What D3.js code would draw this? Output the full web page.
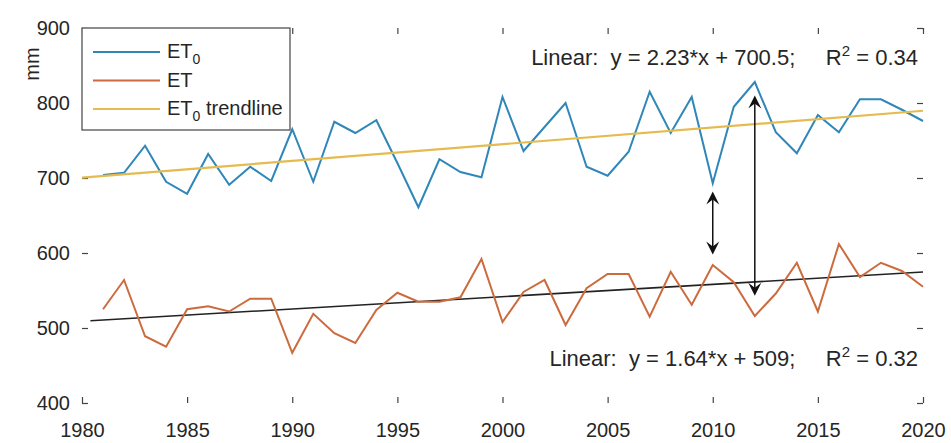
<!DOCTYPE html>
<html>
<head>
<meta charset="utf-8">
<script src="https://cdn.jsdelivr.net/npm/d3@7"></script>
<style>
  body { margin: 0; background: #fff; }
  svg text { font-family: "Liberation Sans", Arial, sans-serif; fill: #262626; }
  .annot { white-space: pre; }
</style>
</head>
<body>
<div class="chart"></div>
<script>
var years = d3.range(1981, 2021);

var et0 = [704, 707, 743, 695, 679, 732, 691, 715, 696, 765,
           695, 775, 760, 777, 720, 661, 725, 708, 701, 808,
           736, 768, 800, 715, 703, 735, 815, 760, 808, 693,
           795, 828, 761, 733, 784, 761, 805, 805, 791, 776];

var et = [525, 564, 489, 475, 525, 529, 522, 539, 539, 467,
          519, 493, 480, 524, 547, 535, 535, 541, 592, 508,
          548, 564, 504, 553, 572, 572, 515, 575, 531, 584,
          561, 516, 546, 587, 522, 612, 568, 587, 576, 555];

// linear fits, x counted from 1980
var et0Fit = {slope: 2.23, intercept: 700.5, from: 1980, to: 2020};
var etFit = {slope: 1.64, intercept: 509, from: 1980.4, to: 2020};

var xTicks = d3.range(1980, 2021, 5);
var yTicks = [400, 500, 600, 700, 800, 900];

// double arrows: [year, low, high]
var arrows = [[2010, 598, 682], [2012, 543, 810]];

var margin = {top: 28, right: 28, bottom: 40, left: 82};
var W = 951, H = 443;
var width = W - margin.left - margin.right;
var height = H - margin.top - margin.bottom;

var svg = d3.select('.chart')
  .append('svg')
    .attr('width', W)
    .attr('height', H)
  .append('g')
    .attr('transform', `translate(${margin.left}, ${margin.top})`);

var x = d3.scaleLinear().domain([1980, 2020]).range([0, width]);
var y = d3.scaleLinear().domain([400, 900]).range([height, 0]);

var axisColor = '#444';

svg.append('rect')
  .attr('width', width).attr('height', height)
  .attr('fill', '#fff');

function styleAxis(g) {
  g.select('.domain').remove();
  g.selectAll('line').attr('stroke', axisColor).attr('stroke-width', 1.2);
  g.selectAll('text').style('font-size', '20px').attr('fill', '#262626');
}

svg.append('g')
  .attr('transform', `translate(0, ${height})`)
  .call(d3.axisBottom(x).tickValues(xTicks).tickFormat(d3.format('d')).tickSizeInner(-6).tickSizeOuter(0).tickPadding(20))
  .call(styleAxis);

svg.append('g')
  .call(d3.axisTop(x).tickValues(xTicks).tickFormat('').tickSizeInner(-6).tickSizeOuter(0))
  .call(styleAxis);

svg.append('g')
  .call(d3.axisLeft(y).tickValues(yTicks).tickSizeInner(-6).tickSizeOuter(0).tickPadding(12))
  .call(styleAxis);

svg.append('g')
  .attr('transform', `translate(${width}, 0)`)
  .call(d3.axisRight(y).tickValues(yTicks).tickFormat('').tickSizeInner(-6).tickSizeOuter(0))
  .call(styleAxis);

svg.append('text')
  .attr('transform', `translate(-50, 36) rotate(-90)`)
  .attr('text-anchor', 'middle')
  .attr('dy', '0.35em')
  .style('font-size', '20px')
  .text('mm');

var line = d3.line().x(d => x(d[0])).y(d => y(d[1]));

function fitPts(f) {
  return [f.from, f.to].map(t => [t, f.intercept + f.slope * (t - 1980)]);
}

svg.append('path')
  .datum(fitPts(etFit))
  .attr('d', line).attr('fill', 'none')
  .attr('stroke', '#222').attr('stroke-width', 1.6);

svg.append('path')
  .datum(years.map((t, i) => [t, et[i]]))
  .attr('d', line).attr('fill', 'none')
  .attr('stroke', '#cc6b3e').attr('stroke-width', 2);

svg.append('path')
  .datum(years.map((t, i) => [t, et0[i]]))
  .attr('d', line).attr('fill', 'none')
  .attr('stroke', '#2f87b9').attr('stroke-width', 2);

svg.append('path')
  .datum(fitPts(et0Fit))
  .attr('d', line).attr('fill', 'none')
  .attr('stroke', '#e5bb50').attr('stroke-width', 2.2);

// arrows
function head(px, py, dir) {
  // dir = -1 points up, 1 points down
  var L = 13, w = 6.5, n = 8;
  return `M${px},${py} L${px - w},${py - dir * L} L${px},${py - dir * n} L${px + w},${py - dir * L} Z`;
}

arrows.forEach(a => {
  var ax = x(a[0]), y0 = y(a[1]), y1 = y(a[2]);
  svg.append('line')
    .attr('x1', ax).attr('x2', ax).attr('y1', y1 + 6).attr('y2', y0 - 6)
    .attr('stroke', '#111').attr('stroke-width', 1.5);
  svg.append('path').attr('d', head(ax, y1, -1)).attr('fill', '#111');
  svg.append('path').attr('d', head(ax, y0, 1)).attr('fill', '#111');
});

// annotations
function annot(f, r2, ty) {
  var t = svg.append('text')
    .attr('class', 'annot')
    .attr('x', width - 5).attr('y', ty)
    .attr('text-anchor', 'end')
    .style('font-size', '22px');
  t.append('tspan').text(`Linear:  y = ${f.slope}*x + ${f.intercept};     R`);
  t.append('tspan').attr('dy', -9).style('font-size', '15px').text('2');
  t.append('tspan').attr('dy', 9).text(` = ${r2}`);
}
annot(et0Fit, '0.34', 37);
annot(etFit, '0.32', 338);

// legend
var legend = svg.append('g');
legend.append('rect')
  .attr('x', 0).attr('y', 0).attr('width', 208).attr('height', 102)
  .attr('fill', '#fff').attr('stroke', axisColor).attr('stroke-width', 1.2);

var items = [
  {name: 'ET', sub: '0', rest: '', color: '#2f87b9'},
  {name: 'ET', sub: '', rest: '', color: '#cc6b3e'},
  {name: 'ET', sub: '0', rest: ' trendline', color: '#e5bb50'}
];

items.forEach((d, i) => {
  var ly = 24 + i * 28.5;
  legend.append('line')
    .attr('x1', 11).attr('x2', 78).attr('y1', ly).attr('y2', ly)
    .attr('stroke', d.color).attr('stroke-width', 2);
  var t = legend.append('text')
    .attr('x', 85).attr('y', ly + 6)
    .style('font-size', '20px');
  t.append('tspan').text(d.name);
  if (d.sub) {
    t.append('tspan').attr('dy', 6).style('font-size', '14px').text(d.sub);
    if (d.rest) t.append('tspan').attr('dy', -6).text(d.rest);
  }
});
</script>
</body>
</html>
